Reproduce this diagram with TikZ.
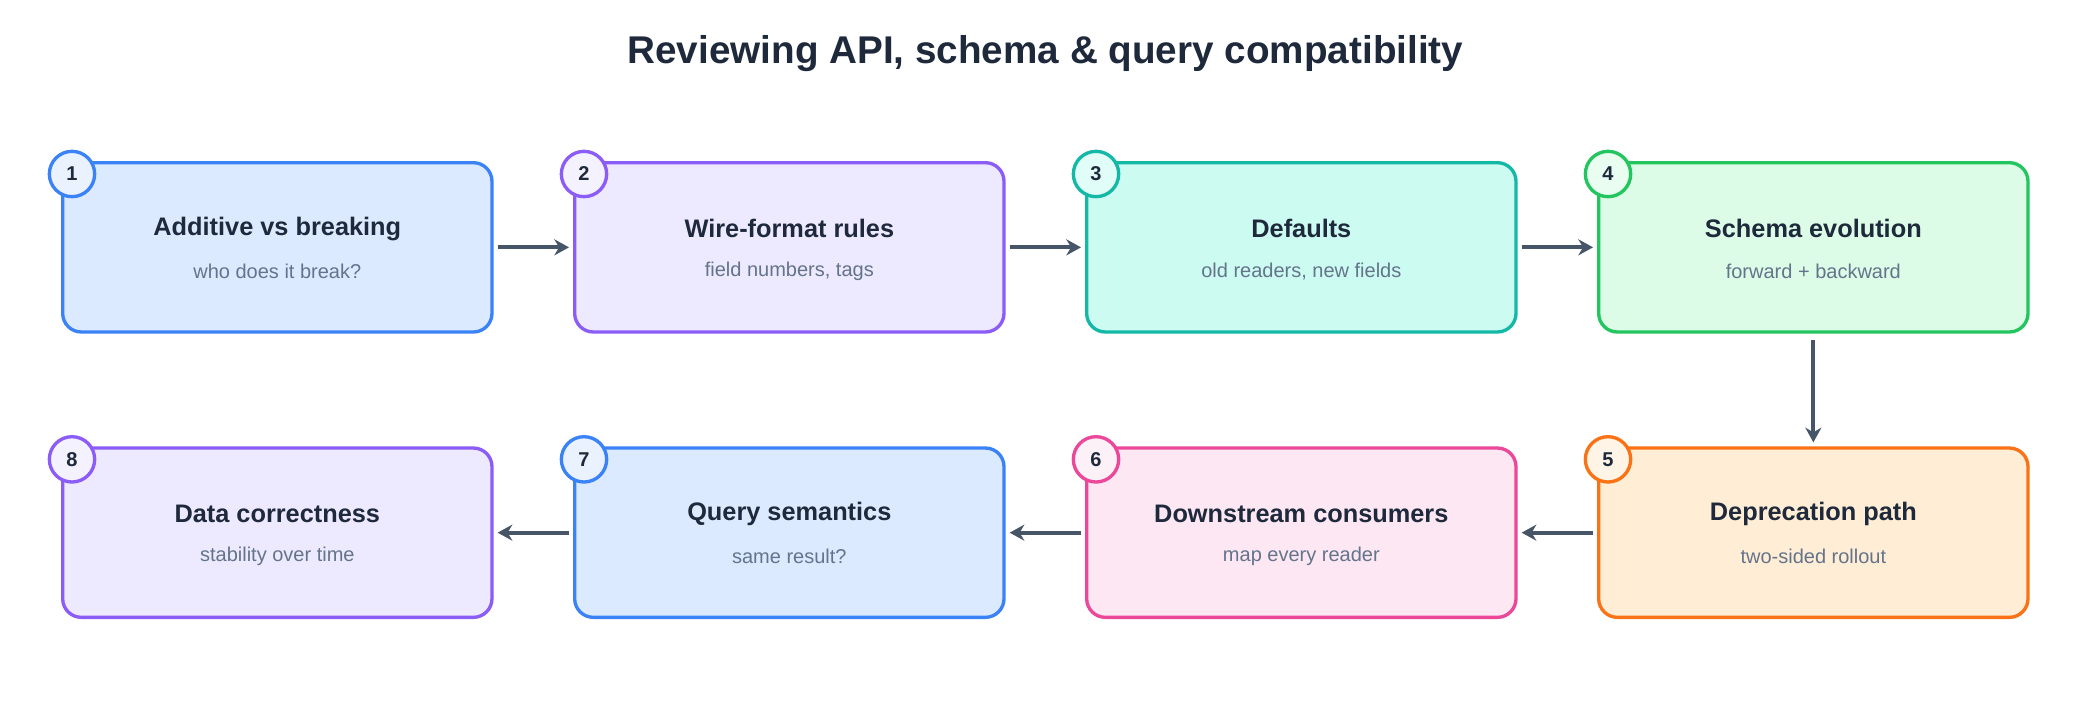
\documentclass[tikz,border=0pt]{standalone}
\usepackage{fontspec}
\setmainfont{Liberation Sans}
\usetikzlibrary{arrows.meta}
\definecolor{bB}{HTML}{3B82F6}\definecolor{fB}{HTML}{DBEAFE}
\definecolor{bP}{HTML}{8B5CF6}\definecolor{fP}{HTML}{EDE9FE}
\definecolor{bT}{HTML}{14B8A6}\definecolor{fT}{HTML}{CCFBF1}
\definecolor{bG}{HTML}{22C55E}\definecolor{fG}{HTML}{DCFCE7}
\definecolor{bO}{HTML}{F97316}\definecolor{fO}{HTML}{FFEDD5}
\definecolor{bK}{HTML}{EC4899}\definecolor{fK}{HTML}{FCE7F3}
\definecolor{ink}{HTML}{1E293B}\definecolor{sub}{HTML}{64748B}\definecolor{arr}{HTML}{475569}
\tikzset{
 card/.style={draw=#1, line width=2.5pt, rounded corners=14pt, minimum width=322pt, minimum height=127pt, inner sep=0pt},
 badge/.style={circle, draw=#1, line width=2.5pt, minimum size=34pt, inner sep=0pt, font=\bfseries\fontsize{15}{15}\selectfont, text=ink},
 ttl/.style={font=\bfseries\fontsize{19}{19}\selectfont, text=ink},
 sbt/.style={font=\fontsize{15}{15}\selectfont, text=sub},
 flow/.style={draw=arr, line width=3pt, -{Stealth[length=11pt,width=12pt]}}
}
\newcommand{\stepcard}[8]{% name x y border fill num title sub
 \node[card=#4, fill=#5] (#1) at (#2,#3) {};
 \node[ttl] (#1t) at (#2,#3-14) {#7};
 \node[sbt] (#1s) at (#2,#3+18) {#8};
 \node[badge=#4, fill=#5!60!white] (#1b) at (#2-154,#3-55) {#6};
}
\begin{document}
\begin{tikzpicture}[x=1pt,y=-1pt]
\useasboundingbox[fill=white] (0,0) rectangle (1560,528);
\node[font=\bfseries\fontsize{29}{29}\selectfont, text=ink] (title) at (784,40) {Reviewing API, schema \& query compatibility};
\stepcard{s1}{208}{185.5}{bB}{fB}{1}{Additive vs breaking}{who does it break?}
\stepcard{s2}{592}{185.5}{bP}{fP}{2}{Wire-format rules}{field numbers, tags}
\stepcard{s3}{976}{185.5}{bT}{fT}{3}{Defaults}{old readers, new fields}
\stepcard{s4}{1360}{185.5}{bG}{fG}{4}{Schema evolution}{forward + backward}
\stepcard{s5}{1360}{399.5}{bO}{fO}{5}{Deprecation path}{two-sided rollout}
\stepcard{s6}{976}{399.5}{bK}{fK}{6}{Downstream consumers}{map every reader}
\stepcard{s7}{592}{399.5}{bB}{fB}{7}{Query semantics}{same result?}
\stepcard{s8}{208}{399.5}{bP}{fP}{8}{Data correctness}{stability over time}
\draw[flow] ([xshift=3pt]s1.east) -- ([xshift=-3pt]s2.west);
\draw[flow] ([xshift=3pt]s2.east) -- ([xshift=-3pt]s3.west);
\draw[flow] ([xshift=3pt]s3.east) -- ([xshift=-3pt]s4.west);
\draw[flow] ([yshift=-5pt]s4.south) -- ([yshift=3pt]s5.north);
\draw[flow] ([xshift=-3pt]s5.west) -- ([xshift=3pt]s6.east);
\draw[flow] ([xshift=-3pt]s6.west) -- ([xshift=3pt]s7.east);
\draw[flow] ([xshift=-3pt]s7.west) -- ([xshift=3pt]s8.east);
\end{tikzpicture}
\end{document}
